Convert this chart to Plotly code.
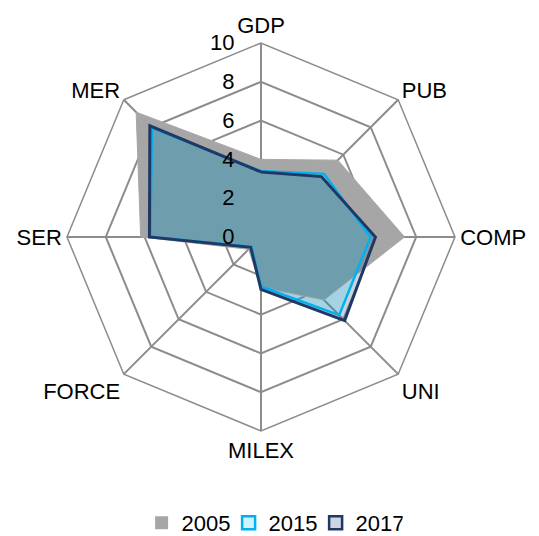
import plotly.graph_objects as go

categories = ["GDP", "PUB", "COMP", "UNI", "MILEX", "FORCE", "SER", "MER"]
v2005 = [4.0, 5.6, 7.4, 4.6, 2.6, 0.9, 6.2, 9.1]
v2015 = [3.4, 4.6, 5.65, 5.7, 2.55, 0.7, 5.7, 7.95]
v2017 = [3.35, 4.4, 5.9, 6.1, 2.7, 0.75, 5.75, 8.1]
series_names = ["2005", "2015", "2017"]
radial_ticks = [0, 2, 4, 6, 8, 10]
radial_ticktext = ["0", "2", "4", "6", "8", "10"]

series_values = {"2005": v2005, "2015": v2015, "2017": v2017}
fills = {"2005": "#A6A6A6", "2015": "rgba(0,218,255,0.175)", "2017": "rgba(43,90,128,0.26)"}
lines = {"2005": "#A6A6A6", "2015": "#00B0F0", "2017": "#1F3864"}
line_widths = {"2005": 1, "2015": 2.5, "2017": 3}
legend_fills = {"2005": "#A6A6A6", "2015": "#CFF3FF", "2017": "#CBD5E3"}
fill_order = ["2005", "2017", "2015"]
line_order = ["2005", "2015", "2017"]

NBSP = "\u00a0"


def closed(vals):
    return vals + vals[:1]


def pad_label(t):
    # shift the radial tick labels to the left of the axis line
    return t + NBSP * 3 + "\u2009"


theta = closed(categories)

fig = go.Figure()
# filled areas
for name in fill_order:
    fig.add_trace(go.Scatterpolar(
        r=closed(series_values[name]), theta=theta, name=name, mode="lines",
        fill="toself", fillcolor=fills[name],
        line=dict(color=fills[name], width=0),
        showlegend=False, hoverinfo="skip"))
# outlines on top
for name in line_order:
    fig.add_trace(go.Scatterpolar(
        r=closed(series_values[name]), theta=theta, name=name, mode="lines",
        line=dict(color=lines[name], width=line_widths[name]),
        showlegend=False))

# legend entries (square swatches)
for name in series_names:
    fig.add_trace(go.Scatterpolar(
        r=[None], theta=[categories[0]], name=name, mode="markers",
        marker=dict(symbol="square", size=13, color=legend_fills[name],
                    line=dict(color=lines[name], width=0 if name == "2005" else 2.5)),
        showlegend=True))

font_family = "Liberation Sans, Arial, sans-serif"
fs = 22

fig.update_layout(
    width=539, height=536,
    margin=dict(l=0, r=0, t=0, b=0, pad=0, autoexpand=False),
    paper_bgcolor="white",
    font=dict(family=font_family, size=fs, color="black"),
    polar=dict(
        domain=dict(x=[0.1094, 0.8293], y=[0.2108, 0.9348]),
        bgcolor="white",
        gridshape="linear",
        angularaxis=dict(
            direction="clockwise", rotation=90,
            categoryorder="array", categoryarray=categories,
            showline=True, linecolor="#8C8C8C", linewidth=1.5,
            gridcolor="#8C8C8C", gridwidth=1.5,
            ticks="", tickfont=dict(size=fs, color="black"),
        ),
        radialaxis=dict(
            range=[0, 10], tickvals=radial_ticks,
            ticktext=[pad_label(t) for t in radial_ticktext],
            angle=90, tickangle=90,
            showline=False, gridcolor="#8C8C8C", gridwidth=1.5,
            ticks="", tickfont=dict(size=fs, color="black"),
            side="counterclockwise",
        ),
    ),
    showlegend=True,
    legend=dict(orientation="h", x=0.49, xanchor="center", y=0.0, yanchor="bottom",
                font=dict(size=fs), itemwidth=30, tracegroupgap=0,
                itemsizing="trace", entrywidth=42, entrywidthmode="pixels"),
)

fig.write_html("out.html")
